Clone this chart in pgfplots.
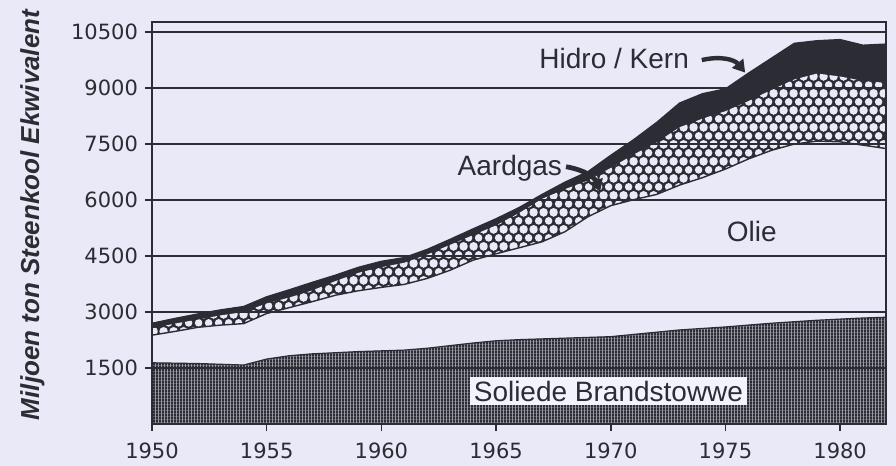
\documentclass[border=0pt]{standalone}
\usepackage{pgfplots}
\pgfplotsset{compat=1.18}
\usepackage{pgfplotstable}
\usetikzlibrary{patterns.meta,arrows.meta}
\usepackage{fontspec}
\setmainfont{Liberation Sans}
\newfontfamily\tickfont{DejaVu Sans}
\definecolor{bg}{RGB}{233,233,247}
\definecolor{ink}{RGB}{44,44,52}
\definecolor{paper}{RGB}{243,243,252}

\tikzdeclarepattern{
  name=hexcirc, type=colored,
  bottom left={(0pt,0pt)}, top right={(4.8pt,8.314pt)},
  tile size={(4.8pt,8.314pt)},
  code={
    \fill[ink] (0pt,0pt) rectangle (4.8pt,8.314pt);
    \fill[bg] (0pt,0pt) circle (1.95pt);
    \fill[bg] (4.8pt,0pt) circle (1.95pt);
    \fill[bg] (0pt,8.314pt) circle (1.95pt);
    \fill[bg] (4.8pt,8.314pt) circle (1.95pt);
    \fill[bg] (2.4pt,4.157pt) circle (1.95pt);
  }
}
\tikzdeclarepattern{
  name=vlinesdense, type=colored,
  bottom left={(0pt,0pt)}, top right={(1.6pt,1.6pt)},
  tile size={(1.6pt,1.6pt)},
  code={
    \fill[bg!55!ink] (0pt,0pt) rectangle (1.6pt,1.6pt);
    \fill[ink] (0pt,0pt) rectangle (1.15pt,1.6pt);
  }
}

\pgfplotstableread{
year solid oil gas total
1950 1640 2380 2560 2700
1951 1630 2480 2690 2830
1952 1620 2590 2800 2950
1953 1600 2650 2910 3060
1954 1580 2690 3000 3150
1955 1740 2960 3230 3410
1956 1830 3120 3390 3600
1957 1880 3280 3580 3800
1958 1910 3450 3830 3990
1959 1940 3570 4050 4200
1960 1960 3660 4200 4360
1961 1980 3740 4320 4460
1962 2030 3900 4540 4680
1963 2100 4120 4800 4950
1964 2170 4390 5060 5230
1965 2230 4560 5320 5500
1966 2260 4720 5650 5800
1967 2280 4880 6030 6150
1968 2300 5150 6290 6480
1969 2320 5550 6520 6760
1970 2340 5850 6860 7200
1971 2400 6010 7220 7620
1972 2460 6150 7540 8080
1973 2520 6400 7950 8600
1974 2560 6600 8180 8850
1975 2600 6830 8380 8980
1976 2650 7100 8650 9400
1977 2700 7330 8950 9800
1978 2740 7500 9230 10200
1979 2780 7580 9390 10270
1980 2810 7560 9310 10300
1981 2840 7470 9190 10150
1982 2860 7380 9140 10180
}\energy

\begin{document}
\begin{tikzpicture}
\path[use as bounding box, fill=bg] (-76pt,-21pt) rectangle (372pt,212pt);
\begin{axis}[
  at={(0pt,0pt)}, anchor=south west,
  scale only axis, width=367pt, height=201pt,
  xmin=1950, xmax=1982, ymin=0, ymax=10770,
  xtick={1950,1955,...,1980}, ytick={1500,3000,...,10500},
  scaled y ticks=false, scaled x ticks=false,
  /pgf/number format/fixed,
  /pgf/number format/1000 sep={},
  /pgf/number format/assume math mode=true,
  ticklabel style={font=\tickfont\fontsize{10.5}{12}\selectfont, text=ink},
  xticklabel style={yshift=-2.5pt},
  tick align=outside, major tick length=3.5pt,
  tick style={ink, line width=0.8pt},
  xtick pos=left, ytick pos=left,
  ymajorgrids, grid style={ink, line width=0.7pt},
  axis line style={ink, line width=0.9pt},
  axis on top,
  ylabel={Miljoen ton Steenkool Ekwivalent},
  ylabel style={at={(axis description cs:-0.163,0.52)}, anchor=center,
    font=\bfseries\itshape\fontsize{13}{15}\selectfont, text=ink},
]
% Hidro / Kern (top of stack), drawn first and covered by lower layers
\addplot[fill=ink, draw=ink, line width=0.6pt] table[x=year, y=total]{\energy} \closedcycle;
% Aardgas
\addplot[pattern=hexcirc, draw=none] table[x=year, y=gas]{\energy} \closedcycle;
% Olie
\addplot[fill=bg, draw=ink, line width=0.7pt] table[x=year, y=oil]{\energy} \closedcycle;
% Soliede brandstowwe
\addplot[pattern=vlinesdense, draw=ink, line width=0.6pt] table[x=year, y=solid]{\energy} \closedcycle;
\end{axis}
\begin{axis}[
  at={(0pt,0pt)}, anchor=south west,
  scale only axis, width=367pt, height=201pt,
  xmin=1950, xmax=1982, ymin=0, ymax=10770,
  axis lines=none, clip=false,
]
\node[fill=paper, inner sep=2pt, text=ink, font=\fontsize{14}{16}\selectfont]
  at (axis cs:1969.9,880) {Soliede Brandstowwe};
\node[text=ink, font=\fontsize{14}{16}\selectfont] at (axis cs:1970.15,9790) {Hidro / Kern};
\node[text=ink, font=\fontsize{14}{16}\selectfont] at (axis cs:1965.6,6844) {Aardgas};
\node[text=ink, font=\fontsize{14}{16}\selectfont] at (axis cs:1976.15,5170) {Olie};
\draw[ink, line width=2.2pt, -{Triangle[length=6pt,width=7pt]}]
  (axis cs:1973.97,9750) .. controls (axis cs:1974.8,9870) and (axis cs:1975.4,9760) .. (axis cs:1975.86,9415);
\draw[ink, line width=2.4pt, -{Triangle[length=6pt,width=7pt]}]
  (axis cs:1968.05,6893) .. controls (axis cs:1968.9,6800) and (axis cs:1969.3,6600) .. (axis cs:1969.54,6222);
\end{axis}
\end{tikzpicture}
\end{document}
